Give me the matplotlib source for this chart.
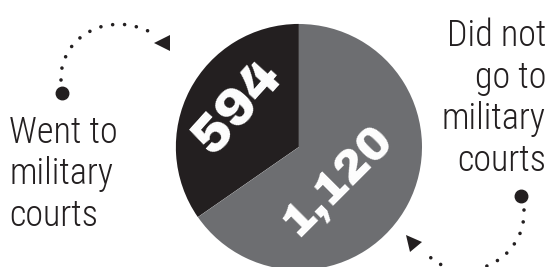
import numpy as np
import matplotlib
matplotlib.use("Agg")
import matplotlib.pyplot as plt
from matplotlib.path import Path
from matplotlib.patches import PathPatch
from matplotlib.markers import MarkerStyle
from matplotlib.transforms import Affine2D

# ---- data ----
categories = ["Went to\nmilitary\ncourts", "Did not\ngo to\nmilitary\ncourts"]
values = [594, 1120]
value_labels = ["594", "1,120"]
colors = ["#231f20", "#6d6e71"]

W, H = 554, 267
fig = plt.figure(figsize=(W / 100, H / 100), dpi=100)
ax = fig.add_axes([0, 0, 1, 1])

CX, CY, R = 299, 120, 123
wedges, _ = ax.pie(values, colors=colors, startangle=90, counterclock=True,
                   explode=(0.155, 0), center=(CX, CY), radius=R,
                   wedgeprops=dict(linewidth=0))
ax.set_xlim(0, W)
ax.set_ylim(0, H)
ax.set_aspect("equal")
ax.axis("off")

num_font = dict(family=["Archivo Black", "DejaVu Sans"], weight="heavy", color="white")
# value labels inside wedges
specs = [(0.58, -5, 48, 38), (0.415, -14, 45, 33)]
for w, txt, (fr, dang, rot, fs) in zip(wedges, value_labels, specs):
    mid = np.deg2rad((w.theta1 + w.theta2) / 2 + dang)
    cx, cy = w.center
    ax.text(cx + fr * R * np.cos(mid), cy + fr * R * np.sin(mid), txt,
            rotation=rot, ha="center", va="center", fontsize=fs,
            rotation_mode="anchor", **num_font)

lab_font = dict(family=["Roboto Condensed", "DejaVu Sans"], weight="light",
                color="#231f20", fontsize=26, linespacing=1.2)
# va="baseline" anchors the last line's baseline
ax.text(9, H - 226, categories[0], ha="left", va="baseline", **lab_font)
ax.text(546, H - 171, categories[1], ha="right", va="baseline", **lab_font)

# dotted connector arcs
def iy(y):
    return H - y

def dotted(p):
    verts = [(x, iy(y)) for x, y in p]
    path = Path(verts, [Path.MOVETO, Path.CURVE4, Path.CURVE4, Path.CURVE4])
    ax.add_patch(PathPatch(path, fill=False, edgecolor="#231f20", lw=2.6,
                           linestyle=(0, (0.01, 3.3)), capstyle="round"))

dotted([(61, 80), (60, 35), (110, 10), (152, 33)])
ax.plot([62], [iy(93)], "o", color="#231f20", ms=9)
ax.plot([162], [iy(43)], marker="<", color="#231f20", ms=11, mew=0)

dotted([(524, 210), (526, 262), (460, 292), (425, 252)])
ax.plot([521], [iy(196)], "o", color="#231f20", ms=9)
ax.plot([411], [iy(241)], marker=MarkerStyle("<", transform=Affine2D().rotate_deg(-49)),
        color="#231f20", ms=11, mew=0)

fig.savefig("out.png", dpi=100)
